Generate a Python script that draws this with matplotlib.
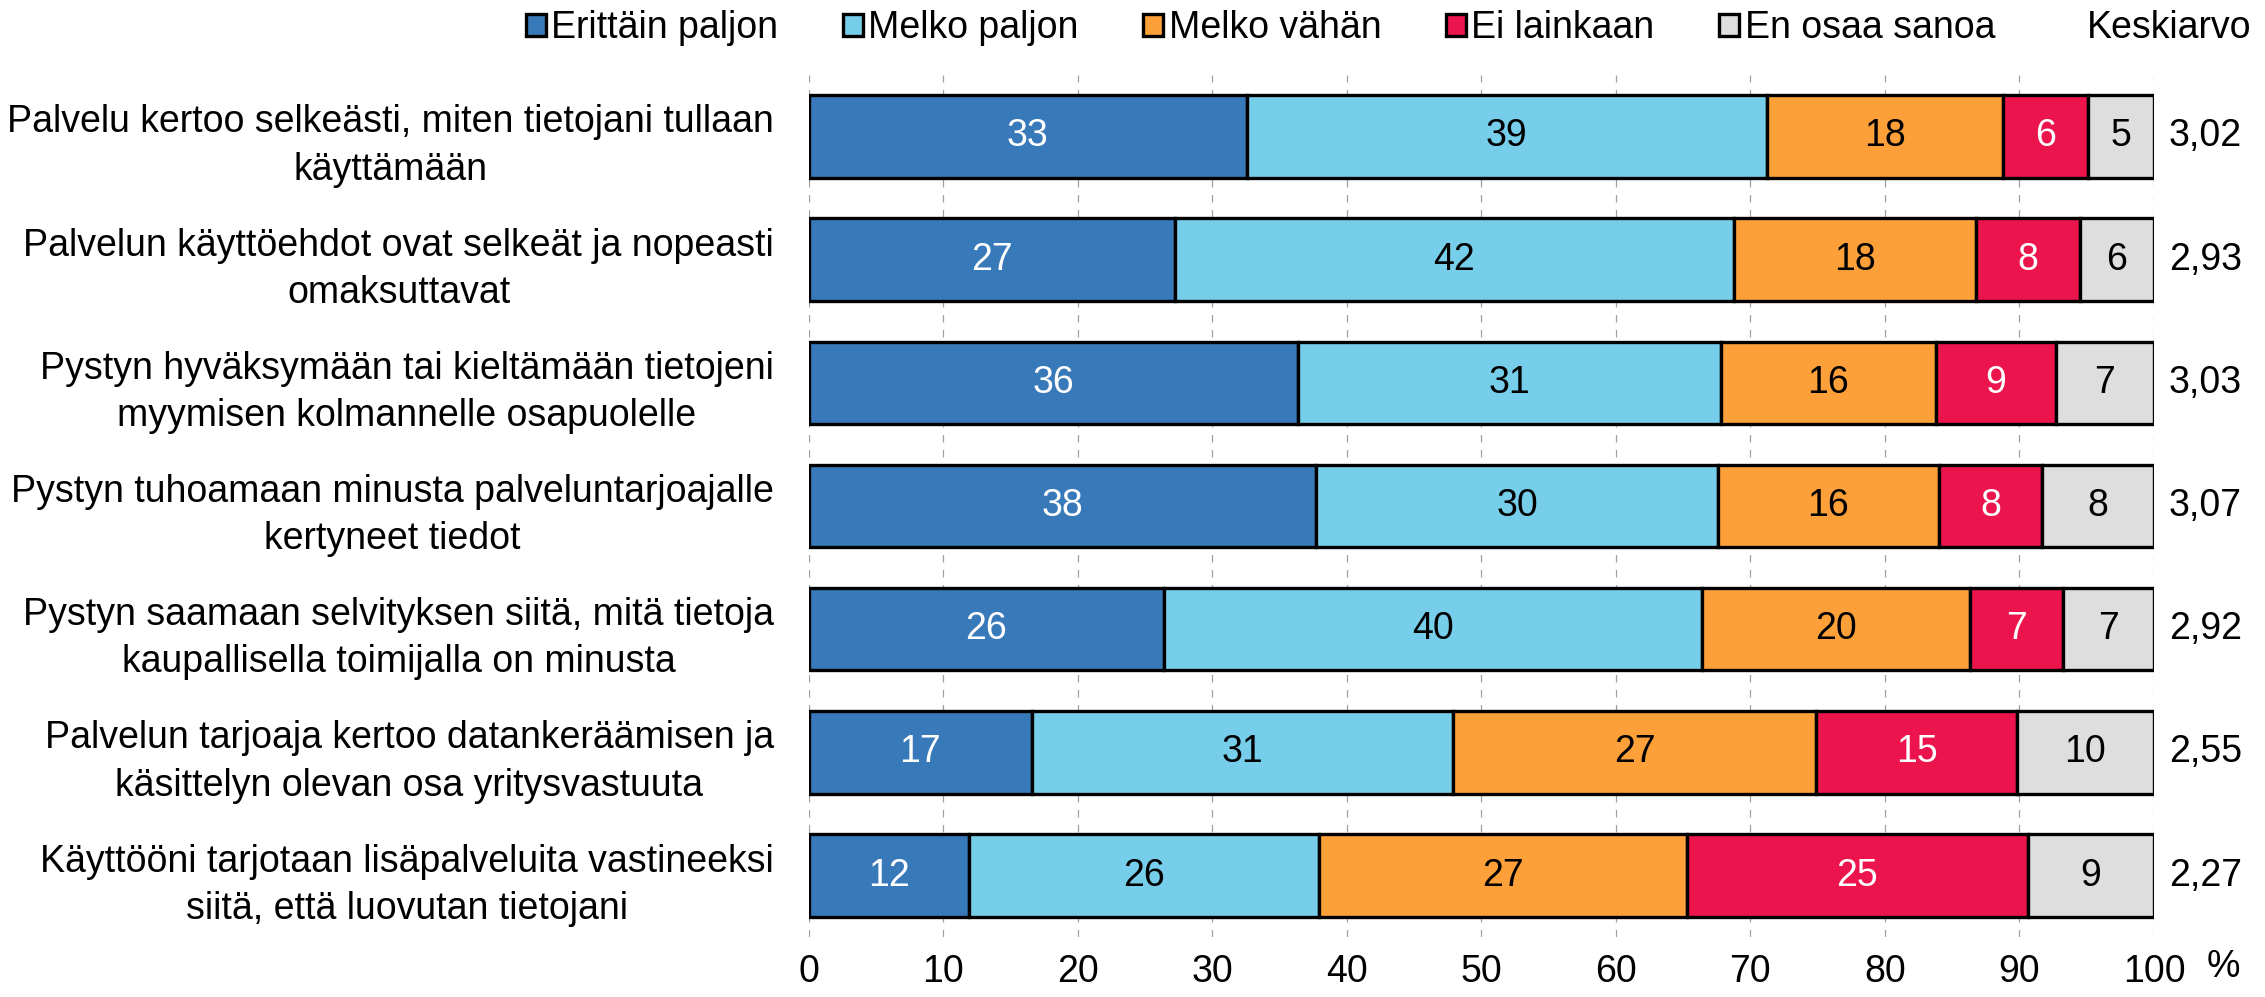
import matplotlib
matplotlib.use("Agg")
import matplotlib.pyplot as plt
from matplotlib.patches import Patch

plt.rcParams['font.family'] = ['Liberation Sans', 'DejaVu Sans']

categories = [
    "Palvelu kertoo selkeästi, miten tietojani tullaan\nkäyttämään",
    "Palvelun käyttöehdot ovat selkeät ja nopeasti\nomaksuttavat",
    "Pystyn hyväksymään tai kieltämään tietojeni\nmyymisen kolmannelle osapuolelle",
    "Pystyn tuhoamaan minusta palveluntarjoajalle\nkertyneet tiedot",
    "Pystyn saamaan selvityksen siitä, mitä tietoja\nkaupallisella toimijalla on minusta",
    "Palvelun tarjoaja kertoo datankeräämisen ja\nkäsittelyn olevan osa yritysvastuuta",
    "Käyttööni tarjotaan lisäpalveluita vastineeksi\nsiitä, että luovutan tietojani",
]
series_names = ["Erittäin paljon", "Melko paljon", "Melko vähän", "Ei lainkaan", "En osaa sanoa"]
erittain_paljon = [32.6, 27.2, 36.4, 37.7, 26.4, 16.6, 11.9]
melko_paljon    = [38.6, 41.6, 31.4, 29.9, 40.0, 31.3, 26.0]
melko_vahan     = [17.6, 18.0, 16.0, 16.4, 19.9, 27.0, 27.4]
ei_lainkaan     = [6.3, 7.7, 8.9, 7.7, 6.9, 14.9, 25.3]
en_osaa_sanoa   = [4.9, 5.5, 7.3, 8.3, 6.8, 10.2, 9.4]
keskiarvo       = [3.02, 2.93, 3.03, 3.07, 2.92, 2.55, 2.27]
x_ticks = [0, 10, 20, 30, 40, 50, 60, 70, 80, 90, 100]

series = [erittain_paljon, melko_paljon, melko_vahan, ei_lainkaan, en_osaa_sanoa]
colors = ["#3779B9", "#76CEEA", "#FEA03A", "#EB144D", "#DEDEDE"]
text_colors = ["white", "black", "black", "white", "black"]

FS = 27
fig = plt.figure(figsize=(22.65, 9.97), dpi=100)
ax = fig.add_axes([0.357, 0.060, 0.594, 0.865])

ypos = list(range(len(categories)))
left = [0.0] * len(categories)
for vals, col, tcol in zip(series, colors, text_colors):
    ax.barh(ypos, vals, left=left, height=0.67, color=col,
            edgecolor="black", linewidth=2.4, zorder=3)
    for y, v, l in zip(ypos, vals, left):
        ax.text(l + v / 2, y, f"{round(v):d}", ha="center", va="center",
                color=tcol, fontsize=FS, zorder=4)
    left = [a + b for a, b in zip(left, vals)]

for y, m in zip(ypos, keskiarvo):
    ax.text(101.1, y, f"{m:.2f}".replace(".", ","), ha="left", va="center",
            fontsize=FS, clip_on=False)

ax.set_xlim(0, 100)
ax.set_ylim(len(categories) - 0.5, -0.5)
ax.set_xticks(x_ticks)
ax.set_xticklabels([str(t) for t in x_ticks], fontsize=FS)
ax.set_yticks(ypos)
ax.set_yticklabels(categories, fontsize=FS, multialignment="center", linespacing=1.4)
ax.tick_params(axis="y", length=0, pad=25)
ax.tick_params(axis="x", length=0, pad=12)
for s in ax.spines.values():
    s.set_visible(False)
ax.grid(axis="x", color="#A0A0A0", linestyle=(0, (6, 6)), linewidth=0.9, zorder=0)
ax.grid(axis="y", visible=False)

ax.text(103.9, 6.74, "%", ha="left", va="center", fontsize=FS, clip_on=False)

handles = [Patch(facecolor=c, edgecolor="black", linewidth=2.4) for c in colors]
leg = fig.legend(handles, series_names, loc="center left", bbox_to_anchor=(0.2322, 0.972),
                 ncol=5, frameon=False, fontsize=FS, handlelength=0.53, handleheight=0.53,
                 handletextpad=0.15, columnspacing=1.72, borderpad=0, borderaxespad=0)
fig.text(0.994, 0.972, "Keskiarvo", ha="right", va="center", fontsize=FS)

fig.savefig("out.png", dpi=100)
